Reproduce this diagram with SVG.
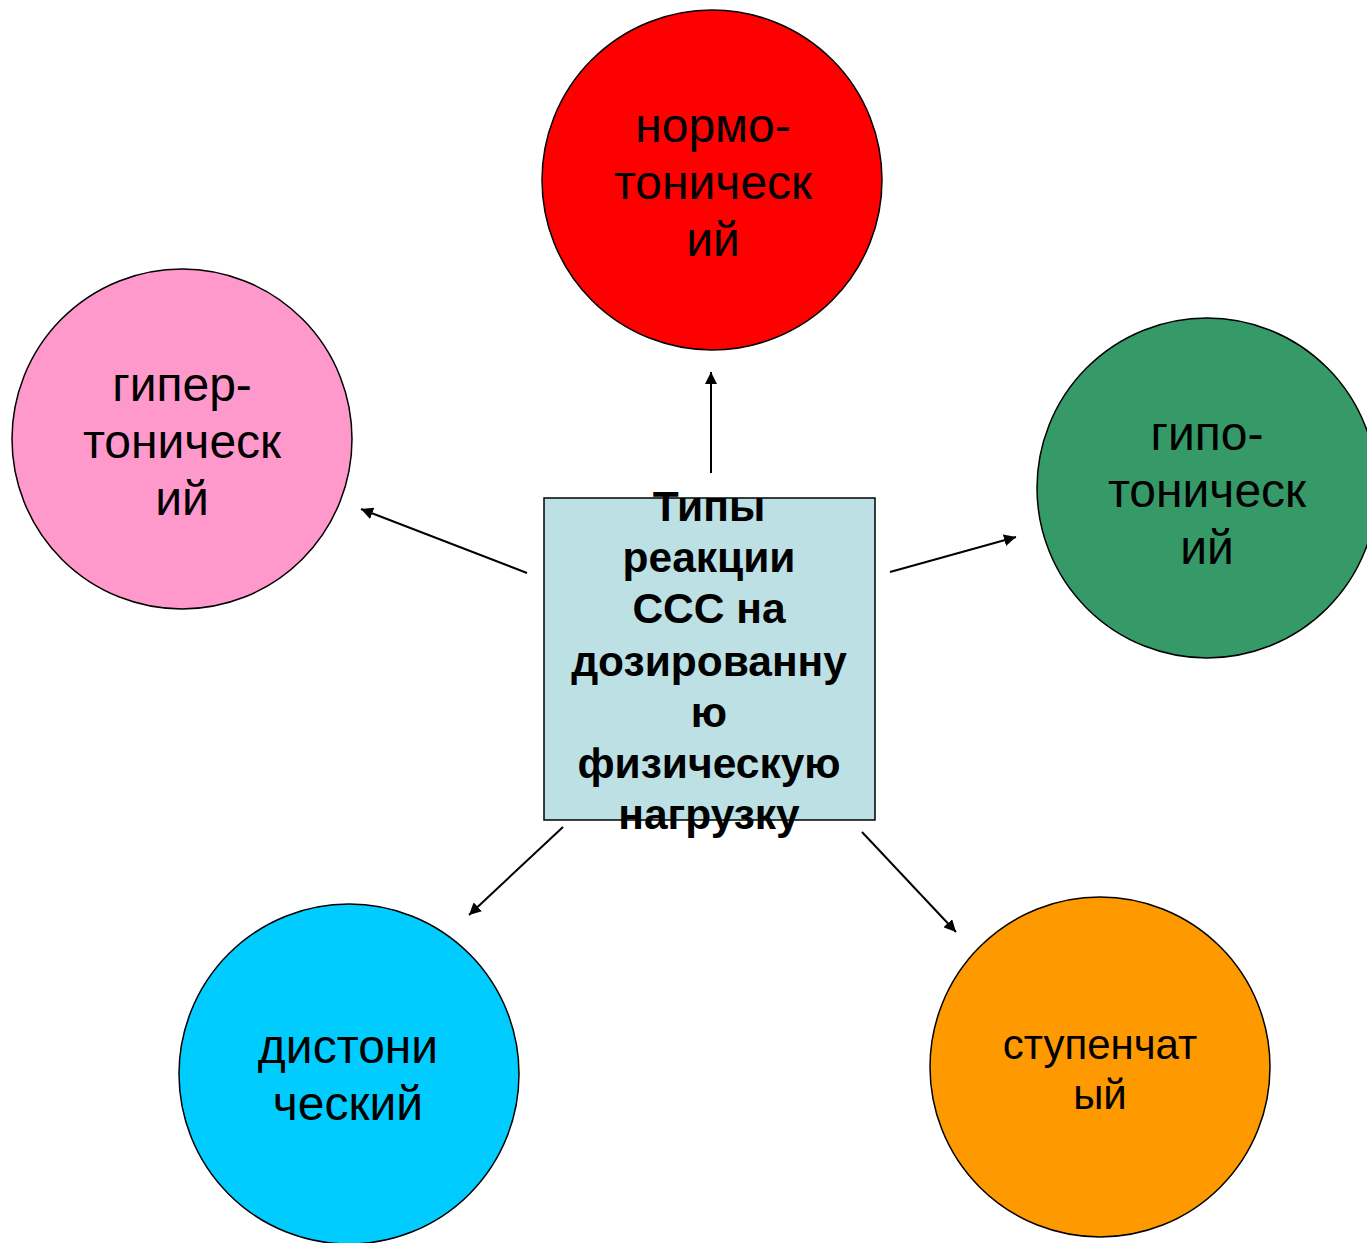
<svg xmlns="http://www.w3.org/2000/svg" width="1367" height="1243" viewBox="0 0 1367 1243">
<style>
.c{stroke:#000;stroke-width:1.5}
.t{font-family:"Liberation Sans",Arial,sans-serif;font-size:48px;fill:#000;text-anchor:middle}
.s{font-size:42px}
.b{font-family:"Liberation Sans",Arial,sans-serif;font-size:42.5px;font-weight:bold;fill:#000;text-anchor:middle}
.e{stroke:#000;stroke-width:2;fill:none;marker-end:url(#ah)}
</style>
<defs>
<marker id="ah" viewBox="0 0 10 10" refX="10" refY="5" markerWidth="6" markerHeight="6" orient="auto" markerUnits="strokeWidth">
<path d="M0,0 L10,5 L0,10 z" fill="#000"/>
</marker>
</defs>
<rect width="1367" height="1243" fill="#fff"/>
<g id="edges">
<line class="e" x1="711" y1="473" x2="711" y2="372"/>
<line class="e" x1="527" y1="573" x2="361" y2="509"/>
<line class="e" x1="890" y1="572" x2="1016" y2="537"/>
<line class="e" x1="563" y1="827" x2="469" y2="915"/>
<line class="e" x1="862" y1="832" x2="956" y2="932"/>
</g>
<g id="center">
<rect x="544" y="498" width="331" height="322" fill="#BCE0E3" class="c"/>
<text class="b" x="710"><tspan x="709" y="521">Типы</tspan><tspan x="709" y="572">реакции</tspan><tspan x="709" y="623">ССС на</tspan><tspan x="709" y="676">дозированну</tspan><tspan x="709" y="727">ю</tspan><tspan x="709" y="778">физическую</tspan><tspan x="709" y="829">нагрузку</tspan></text>
</g>
<g id="normo">
<circle cx="712" cy="180" r="170" fill="#FF0000" class="c"/>
<text class="t"><tspan x="713" y="142">нормо-</tspan><tspan x="713" y="199">тоническ</tspan><tspan x="713" y="256">ий</tspan></text>
</g>
<g id="hyper">
<circle cx="182" cy="439" r="170" fill="#FF99CC" class="c"/>
<text class="t"><tspan x="182" y="401">гипер-</tspan><tspan x="182" y="458">тоническ</tspan><tspan x="182" y="515">ий</tspan></text>
</g>
<g id="hypo">
<circle cx="1207" cy="488" r="170" fill="#359A68" class="c"/>
<text class="t"><tspan x="1207" y="450">гипо-</tspan><tspan x="1207" y="507">тоническ</tspan><tspan x="1207" y="564">ий</tspan></text>
</g>
<g id="disto">
<circle cx="349" cy="1074" r="170" fill="#00CCFF" class="c"/>
<text class="t"><tspan x="348" y="1063">дистони</tspan><tspan x="348" y="1120">ческий</tspan></text>
</g>
<g id="step">
<circle cx="1100" cy="1067" r="170" fill="#FF9900" class="c"/>
<text class="t s"><tspan x="1100" y="1059">ступенчат</tspan><tspan x="1100" y="1109">ый</tspan></text>
</g>
</svg>
